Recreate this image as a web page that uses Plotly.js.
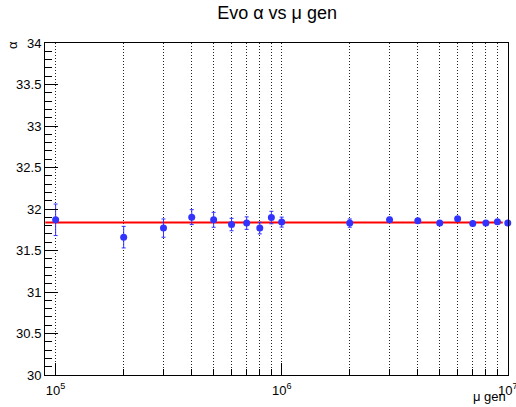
<!DOCTYPE html>
<html>
<head>
<meta charset="utf-8">
<script src="https://cdn.plot.ly/plotly-3.0.1.min.js"></script>
<style>html,body{margin:0;padding:0;background:#fff;}#chart{width:516px;height:407px;}</style>
</head>
<body>
<div id="chart"></div>
<script>
// Data
var muGen = [1e5, 2e5, 3e5, 4e5, 5e5, 6e5, 7e5, 8e5, 9e5, 1e6, 2e6, 3e6, 4e6, 5e6, 6e6, 7e6, 8e6, 9e6, 1e7];
var alphaVals = [31.870, 31.661, 31.770, 31.902, 31.870, 31.813, 31.830, 31.770, 31.897, 31.842, 31.830, 31.870, 31.858, 31.830, 31.882, 31.825, 31.830, 31.846, 31.830];
var alphaErr = [0.19, 0.13, 0.11, 0.09, 0.09, 0.075, 0.075, 0.07, 0.075, 0.06, 0.05, 0.03, 0.025, 0.025, 0.025, 0.025, 0.025, 0.025, 0.025];
var fitX = [9.0e4, 9.5e6];
var fitValue = 31.837;
var xTickVals = [1e5, 1e6, 1e7];
var xTickText = ['10<sup>5</sup>', '10<sup>6</sup>', '10<sup>7</sup>'];
var xMinorVals = [2e5, 3e5, 4e5, 5e5, 6e5, 7e5, 8e5, 9e5, 2e6, 3e6, 4e6, 5e6, 6e6, 7e6, 8e6, 9e6];

var font = 'Liberation Sans, Arial, Helvetica, sans-serif';

var traces = [
  {
    x: fitX, y: fitX.map(function(){return fitValue;}),
    mode: 'lines', type: 'scatter',
    line: {color: '#ff0000', width: 2},
    hoverinfo: 'skip', showlegend: false
  },
  {
    x: muGen, y: alphaVals,
    mode: 'markers', type: 'scatter',
    marker: {color: '#3333ff', size: 7},
    error_y: {type: 'data', array: alphaErr, visible: true, color: '#3333ff', thickness: 1, width: 2},
    showlegend: false,
    cliponaxis: false
  }
];

var layout = {
  width: 516, height: 407,
  margin: {l: 45, r: 8, t: 43, b: 32},
  paper_bgcolor: '#ffffff', plot_bgcolor: '#ffffff',
  font: {family: font, size: 13, color: '#000'},
  title: {text: 'Evo \u03b1 vs \u03bc gen', font: {family: font, size: 18, color: '#000'},
          x: 0.537, xanchor: 'center', y: 0.968, yanchor: 'middle'},
  showlegend: false,
  xaxis: {
    type: 'log', range: [4.953, 7.001],
    tickmode: 'array', tickvals: xTickVals, ticktext: xTickText,
    ticks: 'inside', ticklen: 12, tickwidth: 1, tickcolor: '#000',
    showline: true, linecolor: '#000', linewidth: 1, mirror: true,
    showgrid: true, gridcolor: '#222', griddash: '1px,2px', gridwidth: 1,
    zeroline: false,
    tickfont: {family: font, size: 13, color: '#000'},
    ticklabelstandoff: 3,
    ticklabeloverflow: 'allow',
    minor: {tickmode: 'array', tickvals: xMinorVals, ticks: 'inside', ticklen: 6, tickcolor: '#000',
            showgrid: true, gridcolor: '#222', griddash: '1px,2px', gridwidth: 1}
  },
  yaxis: {
    range: [30, 34],
    tickmode: 'linear', tick0: 30, dtick: 0.5,
    ticks: 'inside', ticklen: 13, tickwidth: 1, tickcolor: '#000',
    showline: true, linecolor: '#000', linewidth: 1, mirror: true,
    showgrid: false, zeroline: false,
    tickfont: {family: font, size: 13, color: '#000'},
    minor: {dtick: 0.1, ticks: 'inside', ticklen: 7, tickcolor: '#000', showgrid: false}
  },
  annotations: [
    {text: '\u03bc gen', xref: 'paper', yref: 'paper', x: 1, xanchor: 'right', y: -0.066, yanchor: 'middle',
     showarrow: false, font: {family: font, size: 13, color: '#000'}},
    {text: '\u03b1', xref: 'paper', yref: 'paper', x: -0.069, xanchor: 'center', y: 0.994, yanchor: 'middle',
     textangle: -90, showarrow: false, font: {family: font, size: 13, color: '#000'}}
  ]
};

Plotly.newPlot('chart', traces, layout, {displayModeBar: false, staticPlot: true});
</script>
</body>
</html>
